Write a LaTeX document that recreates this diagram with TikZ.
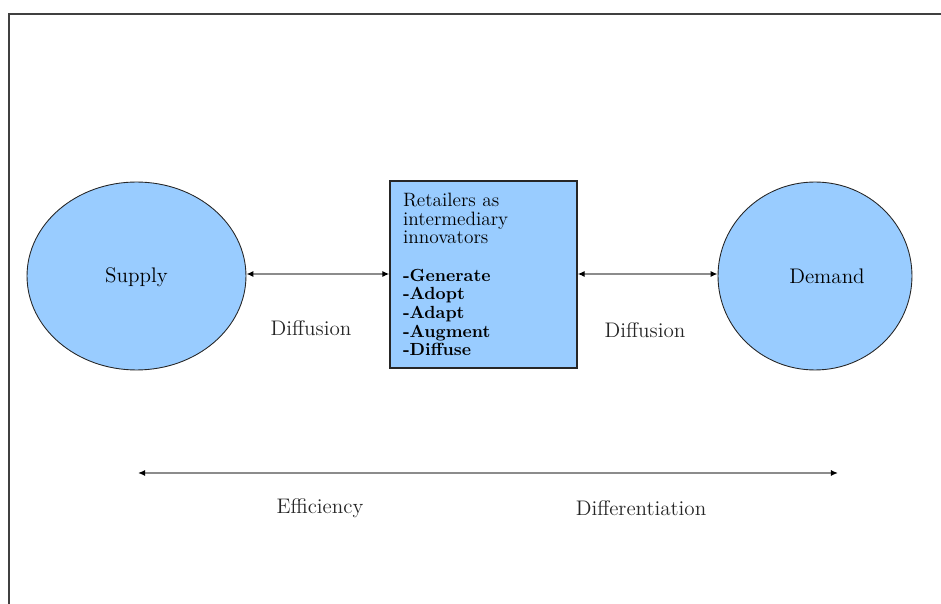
\documentclass[tikz,border=0pt]{standalone}
\usepackage{tikz}
\usetikzlibrary{arrows.meta,shapes.geometric}

\definecolor{lightblue}{RGB}{153,204,255}

\begin{document}
\begin{tikzpicture}[x=0.02cm,y=-0.02cm,
    blob/.style={ellipse,draw=black!85,fill=lightblue,line width=0.5pt,font=\fontsize{12}{14}\selectfont},
    twoway/.style={draw=black!45,line width=0.8pt,
      {Latex[black,length=4pt,width=3.5pt]}-{Latex[black,length=4pt,width=3.5pt]}},
    lbl/.style={font=\fontsize{12}{14}\selectfont,text=black!85}]
  \useasboundingbox (0,0) rectangle (941,604);
  \draw[line width=1.2pt,black!75] (9,604) -- (9,14) -- (941,14);

  \node[blob,minimum width=4.38cm,minimum height=3.76cm] (supply) at (136.5,276) {};
  \node[font=\fontsize{12}{14}\selectfont] (supplytxt) at (136.5,277) {Supply};
  \node[blob,minimum width=3.88cm,minimum height=3.76cm] (demand) at (815,276) {};
  \node[font=\fontsize{12}{14}\selectfont] (demandtxt) at (827,276) {Demand};

  \node[draw=black!85,fill=lightblue,line width=0.8pt,minimum width=3.74cm,minimum height=3.74cm,
        text width=3.22cm,align=left,inner xsep=0.26cm,inner ysep=0.12cm,font=\fontsize{11}{10.6}\selectfont]
        (retailer) at (483.5,274.5)
        {Retailers as\\intermediary\\innovators\\[10.6pt]
         {\bfseries\fontsize{10}{10.6}\selectfont -Generate\\-Adopt\\-Adapt\\-Augment\\-Diffuse}};

  \draw[twoway] (supply.east |- 0,274) -- (retailer.west |- 0,274);
  \draw[twoway] (retailer.east |- 0,274) -- (demand.west |- 0,274);

  \node[lbl] (diffleft) at (311,328) {Diffusion};
  \node[lbl] (diffright) at (645,330) {Diffusion};

  \coordinate (effend) at (138,473);
  \coordinate (diffend) at (838,473);
  \draw[twoway] (effend) -- (diffend);
  \node[lbl] (efficiency) at (320,508) {Efficiency};
  \node[lbl] (differentiation) at (641,508) {Differentiation};
\end{tikzpicture}
\end{document}
